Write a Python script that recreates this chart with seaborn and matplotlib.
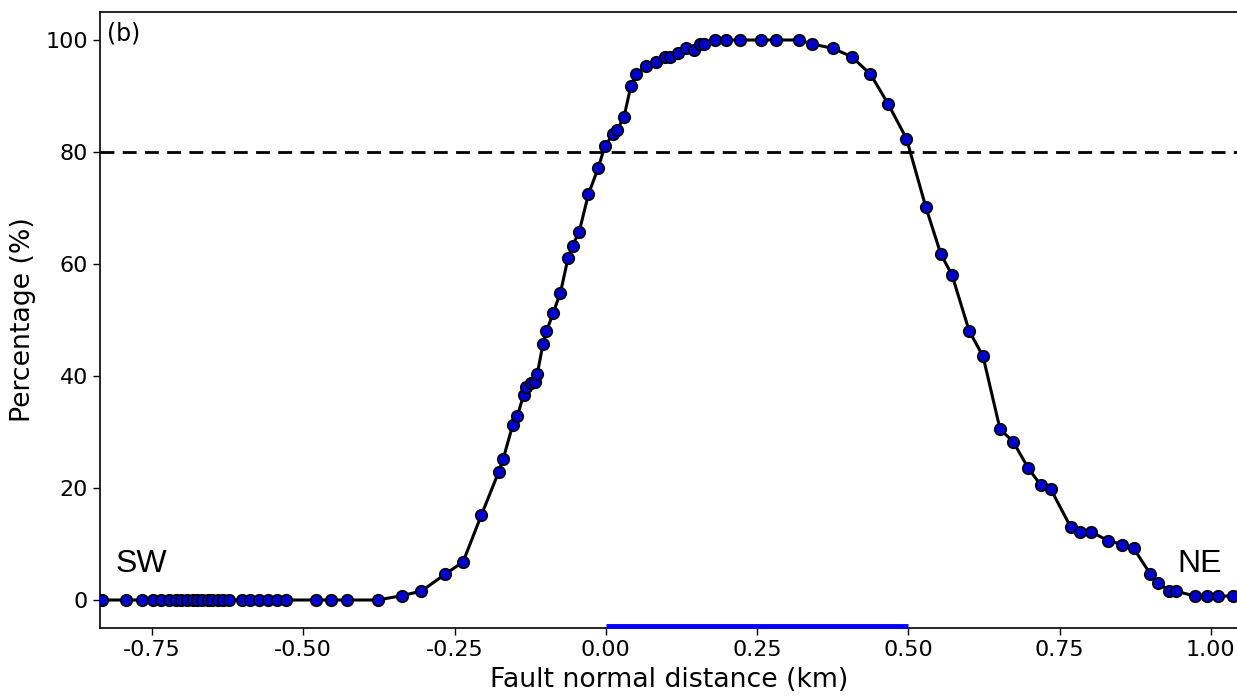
import numpy as np
import pandas as pd
import matplotlib
matplotlib.use("Agg")
import matplotlib.pyplot as plt
import seaborn as sns

distance_km = [
    -0.8326, -0.7922, -0.7674, -0.7483, -0.7344, -0.7218, -0.7107, -0.7013, -0.6921,
    -0.6831, -0.6749, -0.6666, -0.6583, -0.6501, -0.6408, -0.6326, -0.6226, -0.6021,
    -0.5873, -0.5731, -0.5582, -0.5433, -0.5278, -0.4782, -0.4550, -0.4276, -0.3769,
    -0.3360, -0.3046, -0.2656, -0.2359, -0.2055, -0.1769, -0.1698, -0.1537, -0.1460,
    -0.1359, -0.1314, -0.1240, -0.1174, -0.1132, -0.1036, -0.0980, -0.0871, -0.0749,
    -0.0623, -0.0550, -0.0441, -0.0286, -0.0127, -0.0017, 0.0121, 0.0187, 0.0302,
    0.0413, 0.0496, 0.0673, 0.0826, 0.0975, 0.1058, 0.1195, 0.1334, 0.1455, 0.1554,
    0.1620, 0.1813, 0.1995, 0.2226, 0.2567, 0.2821, 0.3195, 0.3405, 0.3757, 0.4066,
    0.4375, 0.4666, 0.4970, 0.5289, 0.5537, 0.5724, 0.6005, 0.6236, 0.6517, 0.6732,
    0.6980, 0.7190, 0.7355, 0.7686, 0.7846, 0.8017, 0.8302, 0.8540, 0.8727, 0.9003,
    0.9129, 0.9311, 0.9421, 0.9736, 0.9945, 1.0127, 1.0369,
]
percentage = [
    0, 0, 0, 0, 0, 0, 0, 0, 0,
    0, 0, 0, 0, 0, 0, 0, 0, 0,
    0, 0, 0, 0, 0, 0, 0, 0, 0,
    0.8, 1.6, 4.6, 6.8, 15.2, 22.9, 25.1, 31.3, 32.9,
    36.6, 38.0, 38.8, 38.9, 40.4, 45.8, 48.0, 51.2, 54.9,
    61.1, 63.3, 65.7, 72.5, 77.1, 81.0, 83.2, 83.9, 86.3,
    91.7, 93.9, 95.4, 96.1, 96.9, 96.9, 97.7, 98.5, 98.3, 99.3,
    99.3, 100, 100, 100, 100, 100, 100, 99.3, 98.5, 97.0,
    93.9, 88.6, 82.4, 70.2, 61.8, 58.0, 48.1, 43.5, 30.5, 28.3,
    23.6, 20.5, 19.8, 13.0, 12.2, 12.2, 10.6, 9.9, 9.2, 4.6,
    3.1, 1.6, 1.6, 0.7, 0.7, 0.7, 0.7,
]
threshold = 80
fault_zone = [0.0, 0.5]
x_ticks = [-0.75, -0.50, -0.25, 0.00, 0.25, 0.50, 0.75, 1.00]
y_ticks = [0, 20, 40, 60, 80, 100]

df = pd.DataFrame({"distance": distance_km, "pct": percentage})

sns.set_style("ticks")
plt.rcParams["font.family"] = ["DejaVu Sans"]
plt.rcParams["text.color"] = "black"
plt.rcParams["axes.labelcolor"] = "black"
plt.rcParams["xtick.color"] = "black"
plt.rcParams["ytick.color"] = "black"
plt.rcParams["axes.edgecolor"] = "black"

fig = plt.figure(figsize=(12.37, 6.97), dpi=100)
ax = fig.add_axes([100 / 1237, 69 / 697, 1138 / 1237, 616 / 697])

ax.axhline(threshold, color="black", linestyle="--", linewidth=2, dashes=(5, 3), zorder=1)

sns.lineplot(data=df, x="distance", y="pct", ax=ax, sort=False, estimator=None,
             color="black", linewidth=2.2, marker="o", markersize=8.3,
             markerfacecolor="#0000cc", markeredgecolor="black", markeredgewidth=1.2,
             zorder=3)

ax.plot(fault_zone, [-4.6, -4.6], color="blue", linewidth=3.5, solid_capstyle="butt",
        zorder=4, clip_on=False)

ax.set_xlim(-0.836, 1.045)
ax.set_ylim(-5, 105)
ax.set_xticks(x_ticks)
ax.set_xticklabels([f"{t:.2f}" for t in x_ticks])
ax.set_yticks(y_ticks)
ax.tick_params(labelsize=16, length=5, width=1, colors="black")
ax.set_xlabel("Fault normal distance (km)", fontsize=19.3, labelpad=5, color="black")
ax.set_ylabel("Percentage (%)", fontsize=19.3, labelpad=7, color="black")

ax.text(0.006, 0.985, "(b)", transform=ax.transAxes, fontsize=17, va="top", ha="left",
        color="black")
ax.text(-0.81, 6.5, "SW", fontsize=23, family=["Liberation Sans"], va="center", ha="left",
        color="black")
ax.text(0.945, 6.5, "NE", fontsize=23, family=["Liberation Sans"], va="center", ha="left",
        color="black")

for s in ax.spines.values():
    s.set_linewidth(1.2)
    s.set_color("black")

fig.savefig("out.png", dpi=100)
